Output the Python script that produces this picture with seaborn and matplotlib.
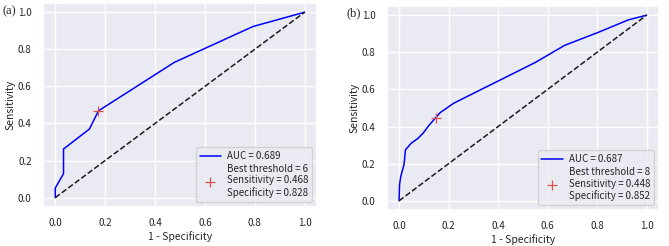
import matplotlib
matplotlib.use("Agg")
import matplotlib.pyplot as plt
import seaborn as sns

# ROC curve points
fpr_a = [0.0, 0.0, 0.033, 0.033, 0.137, 0.173, 0.478, 0.793, 1.0]
tpr_a = [0.0, 0.052, 0.129, 0.262, 0.37, 0.468, 0.73, 0.923, 1.0]
auc_a = 0.689
best_a = (0.172, 0.468)
thr_a, sens_a, spec_a = 6, 0.468, 0.828

fpr_b = [0.0, 0.002, 0.007, 0.02, 0.026, 0.049, 0.075, 0.097, 0.12, 0.148,
         0.166, 0.22, 0.278, 0.4, 0.55, 0.669, 0.8, 0.927, 1.0]
tpr_b = [0.0, 0.088, 0.132, 0.195, 0.275, 0.31, 0.335, 0.364, 0.405, 0.448,
         0.475, 0.525, 0.564, 0.645, 0.745, 0.8375, 0.905, 0.975, 1.0]
auc_b = 0.687
best_b = (0.15, 0.448)
thr_b, sens_b, spec_b = 8, 0.448, 0.852

sns.set_theme(style="darkgrid")
plt.rcParams["font.family"] = ["Noto Sans CJK KR", "DejaVu Sans"]

fig = plt.figure(figsize=(6.69, 2.46), dpi=100)
ax_a = fig.add_axes([0.064, 0.159, 0.41, 0.829])
ax_b = fig.add_axes([0.578, 0.146, 0.407, 0.83])

panels = [
    (ax_a, fpr_a, tpr_a, auc_a, best_a, thr_a, sens_a, spec_a),
    (ax_b, fpr_b, tpr_b, auc_b, best_b, thr_b, sens_b, spec_b),
]

for ax, fpr, tpr, auc, best, thr, sens, spec in panels:
    sns.lineplot(x=fpr, y=tpr, ax=ax, color="#0000ff", lw=1.1, sort=False,
                 estimator=None, label="AUC = %.3f" % auc)
    ax.plot([0, 1], [0, 1], "k--", lw=1.1)
    ax.plot(best[0], best[1], "+", color="#d9534f", ms=7, mew=0.9, ls="none",
            label="Best threshold = %d\nSensitivity = %.3f\nSpecificity = %.3f" % (thr, sens, spec))
    ax.set_xlabel("1 - Specificity", fontsize=7.5, labelpad=2)
    ax.set_ylabel("Sensitivity", fontsize=7.5, labelpad=2)
    ax.tick_params(labelsize=7, pad=2)
    ax.set_xticks([0, 0.2, 0.4, 0.6, 0.8, 1.0])
    ax.set_yticks([0, 0.2, 0.4, 0.6, 0.8, 1.0])
    ax.legend(loc="lower right", fontsize=7, handlelength=2.2,
              borderpad=0.4, labelspacing=0.3, handletextpad=0.6)

fig.text(0.003, 0.98, "(a)", fontsize=9, family="Liberation Serif", va="top")
fig.text(0.518, 0.97, "(b)", fontsize=9, family="Liberation Serif", va="top")

fig.savefig("out.png", dpi=100)
